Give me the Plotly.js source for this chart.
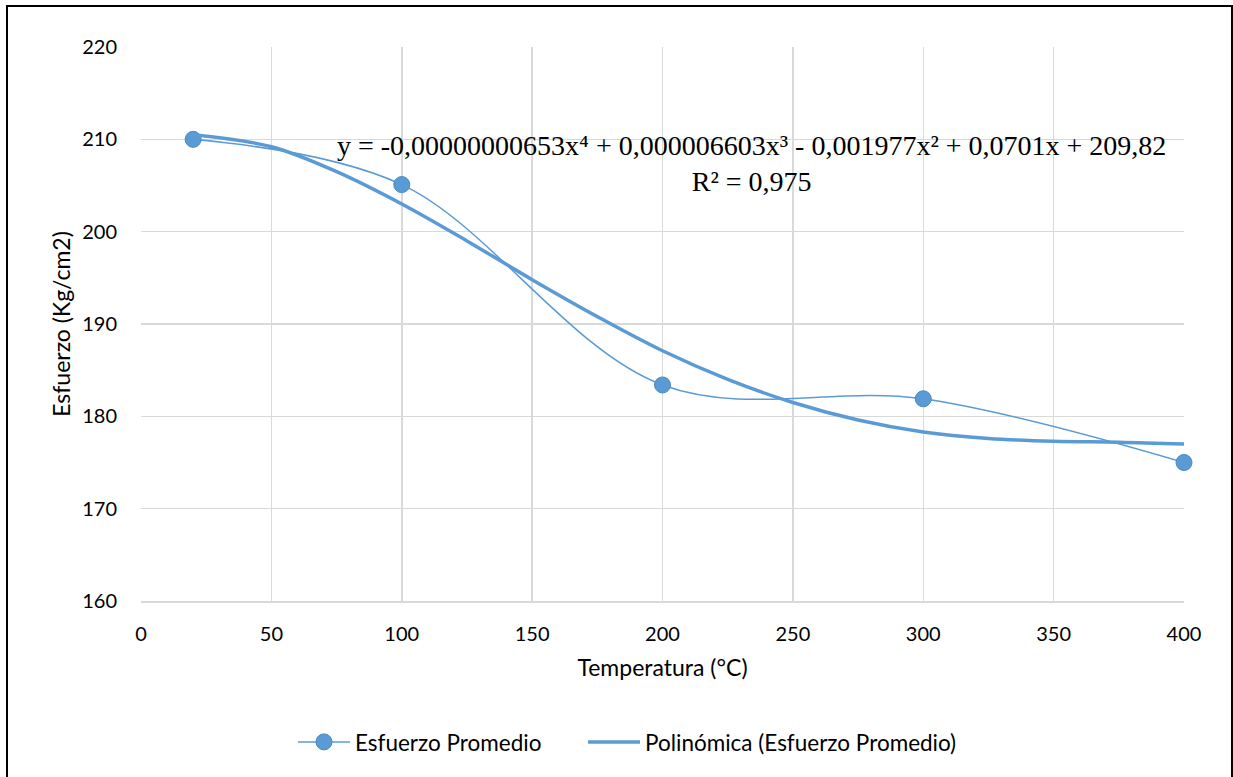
<!DOCTYPE html>
<html>
<head>
<meta charset="utf-8">
<script src="https://cdn.plot.ly/plotly-3.0.1.min.js"></script>
<style>
  html, body { margin: 0; padding: 0; background: #fff; overflow: hidden; }
  #chart { width: 1233px; height: 777px; }
  #frame { position: absolute; left: 6px; top: 5px; width: 1223px; height: 800px; border: 2px solid #000; pointer-events: none; }
</style>
</head>
<body>
<div id="chart"></div>
<div id="frame"></div>
<script>
// Measured data (Esfuerzo Promedio)
const temperatura = [20, 100, 200, 300, 400];
const esfuerzo = [210.0, 205.1, 183.4, 181.9, 175.0];

// Polynomial trendline
const trendX = [20, 50, 75, 100, 125, 150, 175, 200, 225, 250, 275, 300, 325, 350, 375, 400];
const trendY = [210.5, 209.2, 206.5, 203.0, 199.0, 194.8, 190.8, 187.1, 184.0, 181.5, 179.6, 178.3, 177.6, 177.3, 177.2, 177.0];

const xTicks = [0, 50, 100, 150, 200, 250, 300, 350, 400];
const yTicks = [160, 170, 180, 190, 200, 210, 220];

const equationText = 'y = -0,00000000653x⁴ + 0,000006603x³ - 0,001977x² + 0,0701x + 209,82<br>R² = 0,975';

const blue = '#5B9BD5';
const font = 'Lato, "Open Sans", sans-serif';

const traces = [
  {
    x: temperatura, y: esfuerzo,
    type: 'scatter', mode: 'lines+markers',
    name: 'Esfuerzo Promedio',
    legend: 'legend',
    cliponaxis: false,
    line: { color: blue, width: 1.5, shape: 'spline', smoothing: 1 },
    marker: { color: blue, size: 16, line: { color: '#4A88C2', width: 1 } }
  },
  {
    x: trendX, y: trendY,
    type: 'scatter', mode: 'lines',
    name: 'Polinómica (Esfuerzo Promedio)',
    legend: 'legend2',
    line: { color: blue, width: 3.5, shape: 'spline', smoothing: 1 }
  }
];

const legendFont = { family: font, size: 22.5, color: '#000' };

const layout = {
  width: 1233, height: 777,
  margin: { l: 141, r: 49, t: 47, b: 176 },
  paper_bgcolor: '#fff', plot_bgcolor: '#fff',
  font: { family: font, size: 20, color: '#000' },
  showlegend: true,
  legend: {
    orientation: 'h', x: 0.1457, xanchor: 'left', y: -0.255, yanchor: 'middle',
    font: legendFont, itemwidth: 52, bgcolor: 'rgba(0,0,0,0)'
  },
  legend2: {
    orientation: 'h', x: 0.4238, xanchor: 'left', y: -0.255, yanchor: 'middle',
    font: legendFont, itemwidth: 52, bgcolor: 'rgba(0,0,0,0)'
  },
  xaxis: {
    range: [0, 400], tickvals: xTicks, ticktext: xTicks.map(String),
    showgrid: true, gridcolor: '#D9D9D9', gridwidth: 1.5,
    zeroline: false, showline: true, linecolor: '#D9D9D9', linewidth: 1.5,
    ticks: '', ticklabelstandoff: 14, tickfont: { family: font, size: 20, color: '#000' },
    title: { text: 'Temperatura (°C)', font: { family: font, size: 23, color: '#000' }, standoff: 16 }
  },
  yaxis: {
    range: [160, 220], tickvals: yTicks, ticktext: yTicks.map(String),
    showgrid: true, gridcolor: '#D9D9D9', gridwidth: 1.5,
    zeroline: false, showline: false,
    ticks: '', ticklen: 0, ticklabelstandoff: 23, tickfont: { family: font, size: 20, color: '#000' },
    title: { text: 'Esfuerzo (Kg/cm2)', font: { family: font, size: 23, color: '#000' }, standoff: 5 }
  },
  annotations: [
    {
      xref: 'paper', yref: 'paper', x: 0.585, y: 0.789, xanchor: 'center', yanchor: 'middle',
      text: equationText, showarrow: false, align: 'center',
      font: { family: '"Liberation Serif", "DejaVu Serif", serif', size: 28, color: '#000' }
    }
  ]
};

Plotly.newPlot('chart', traces, layout, { displayModeBar: false, staticPlot: true });
</script>
</body>
</html>
